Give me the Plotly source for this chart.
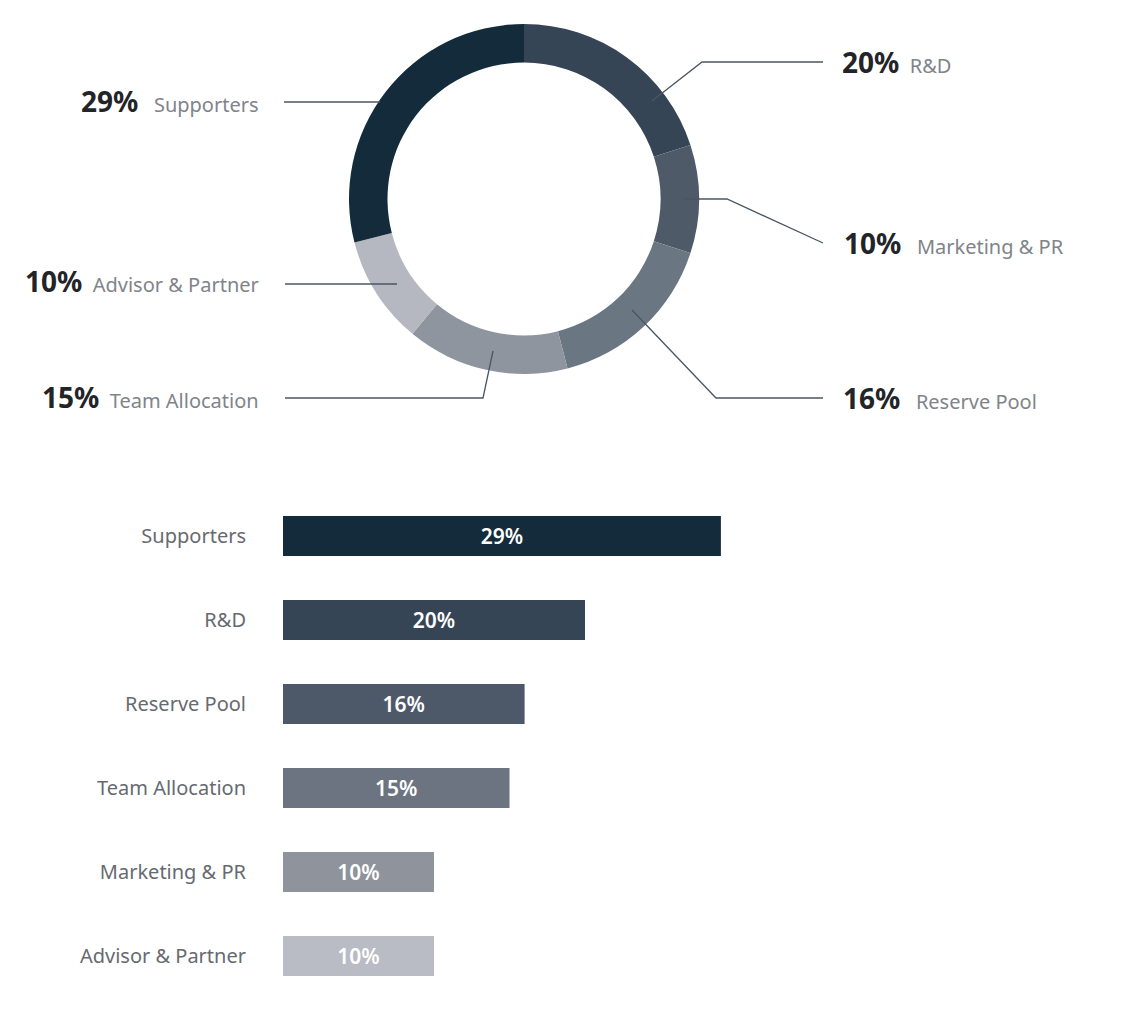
import plotly.graph_objects as go

OFF = 8  # default page body margin
W, H = 1129 - OFF, 1011 - OFF

# ---- data ----
donut_labels = ["R&D", "Marketing & PR", "Reserve Pool", "Team Allocation", "Advisor & Partner", "Supporters"]
donut_values = [20, 10, 16, 15, 10, 29]
donut_colors = ["#364555", "#4e5a68", "#6b7683", "#8f959f", "#b5b8c0", "#132b3b"]

bar_labels = ["Supporters", "R&D", "Reserve Pool", "Team Allocation", "Marketing & PR", "Advisor & Partner"]
bar_values = [29, 20, 16, 15, 10, 10]
bar_colors = ["#142b3b", "#364555", "#4d5968", "#6b7480", "#8e939c", "#b9bcc4"]

FONT = "Noto Sans"


def px(x, y):
    return (x - OFF) / W, 1 - (y - OFF) / H


fig = go.Figure()

# donut
cx, cy, R = 524, 199, 175
x0, y0 = px(cx - R, cy + R)
x1, y1 = px(cx + R, cy - R)
fig.add_trace(go.Pie(
    labels=donut_labels, values=donut_values, sort=False, direction="clockwise",
    rotation=0, hole=0.78, textinfo="none", showlegend=False,
    marker=dict(colors=donut_colors, line=dict(width=0)),
    domain=dict(x=[x0, x1], y=[y0, y1]),
))

# bars
fig.add_trace(go.Bar(
    y=bar_labels, x=bar_values, orientation="h",
    marker=dict(color=bar_colors, line=dict(width=0)),
    width=0.476,
    text=[f"{v}%" for v in bar_values], textposition="inside",
    insidetextanchor="middle",
    textfont=dict(family=FONT, size=21, color="white", weight=600),
    showlegend=False, cliponaxis=False,
))

ytop, ybot = 494, 998
bx0, _ = px(283, 0)
_, dom_top = px(0, ytop)
_, dom_bot = px(0, ybot)
fig.update_layout(
    width=W, height=H, margin=dict(l=0, r=0, t=0, b=0),
    paper_bgcolor="white", plot_bgcolor="white",
    font=dict(family=FONT),
    xaxis=dict(domain=[bx0, 1.0], range=[0, (W - (283 - OFF)) / 15.1], visible=False, fixedrange=True),
    yaxis=dict(domain=[dom_bot, dom_top], autorange="reversed",
               showgrid=False, zeroline=False, showline=False, ticks="",
               ticklabelstandoff=36,
               tickfont=dict(family=FONT, size=20, color="#666a70")),
    bargap=0.5,
)

# leader lines (layout decoration)
line_color = "#4b5663"
leaders = [
    [(284, 102), (380, 102)],                    # Supporters
    [(285, 284), (397, 284)],                    # Advisor & Partner
    [(285, 398), (483, 398), (493, 351)],        # Team Allocation
    [(652, 101), (702, 62), (823, 62)],          # R&D
    [(683, 199), (727, 199), (823, 243)],        # Marketing & PR
    [(632, 310), (716, 398), (823, 398)],        # Reserve Pool
]
for pts in leaders:
    path = ""
    for i, (x, y) in enumerate(pts):
        X, Y = px(x, y)
        path += ("M" if i == 0 else " L") + f" {X:.5f},{Y:.5f}"
    fig.add_shape(type="path", path=path, xref="paper", yref="paper",
                  line=dict(color=line_color, width=1.3))

# donut labels
pct = {l: v for l, v in zip(donut_labels, donut_values)}
label_pos = {
    "Supporters": (261, 101, "right", 3),
    "Advisor & Partner": (261, 281, "right", 2),
    "Team Allocation": (261, 397, "right", 2),
    "R&D": (840, 62, "left", 2),
    "Marketing & PR": (842, 243, "left", 3),
    "Reserve Pool": (841, 398, "left", 3),
}
for name, (x, y, anchor, gap) in label_pos.items():
    X, Y = px(x, y)
    sp = "&nbsp;" * (gap - 1) + " "
    txt = (f"<span style='font-size:28px;color:#222428'><b>{pct[name]}%</b></span>"
           f"<span style='font-size:20px;color:#808489'>{sp}{name}</span>")
    fig.add_annotation(x=X, y=Y, xref="paper", yref="paper", text=txt,
                       showarrow=False, xanchor=anchor, yanchor="middle",
                       font=dict(family=FONT))

fig.write_html("out.html", config={"displayModeBar": False})
